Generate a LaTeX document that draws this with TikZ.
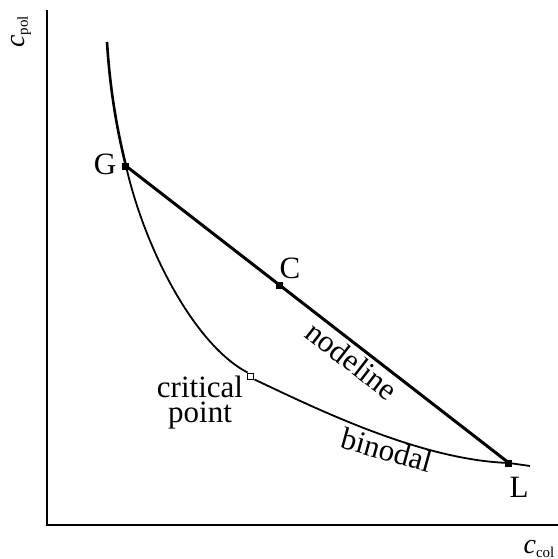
\documentclass[tikz,border=0pt]{standalone}
\usepackage{fontspec}
\setmainfont{Liberation Serif}
\usetikzlibrary{positioning}

\begin{document}
\begin{tikzpicture}[x=0.5pt, y=-0.5pt,
    axis/.style={line width=1.4pt},
    tie/.style={line width=1.5pt},
    curve/.style={line width=0.9pt},
    dot/.style={rectangle, fill=black, inner sep=0pt, minimum size=3.5pt},
    crit/.style={rectangle, draw, fill=white, line width=0.5pt, inner sep=0pt, minimum size=3pt},
    lbl/.style={font=\fontsize{15.5}{12.5}\selectfont, inner sep=1pt}
]
    \useasboundingbox (0,0) rectangle (558,559);

    % Axes
    \coordinate (ytop) at (47,10);
    \coordinate (O) at (47,525);
    \coordinate (xend) at (558,525);
    \draw[axis] (ytop) -- (O) -- (xend);
    \node[rotate=90, inner sep=0pt] (cpol) at (21,32) {\fontsize{14}{14}\selectfont\textit{c}\raisebox{-0.3ex}{\fontsize{7.5}{7.5}\selectfont pol}};
    \node[inner sep=0pt] (ccol) at (539,549) {\fontsize{14}{14}\selectfont\textit{c}\raisebox{-0.3ex}{\fontsize{7.5}{7.5}\selectfont col}};

    % Points
    \node[dot] (G) at (126,166) {};
    \node[dot] (C) at (280,285) {};
    \node[dot] (L) at (509,463) {};
    \node[crit] (cp) at (251,376) {};
    \coordinate (top) at (107,42);
    \coordinate (tail) at (530,466);

    % Binodal
    \draw[curve, line width=1.3pt] (top) .. controls (110,90) and (117,130) .. (G.center);
    \draw[curve] (G.center) .. controls (145,250) and (195,345) .. (cp.north west);
    \draw[curve] (cp.south east) .. controls (315,408) and (420,460) .. (L.center) -- (tail);

    % Tie line
    \draw[tie] (G.center) -- (L.center);
    \node[dot] at (G) {};
    \node[dot] at (C) {};
    \node[dot] at (L) {};

    % Labels
    \node[lbl] (Glbl) at (105,164) {G};
    \node[lbl] (Clbl) at (290,268) {C};
    \node[lbl] (Llbl) at (519,487) {L};
    \node[lbl, align=center] (cplbl) at (200,403) {critical\\point};
    \path (G.center) -- (L.center) node[lbl, pos=0.615, sloped, below=1pt] (nl) {nodeline};
    \node[lbl, rotate=-15.5] (bn) at (387,450) {binodal};
\end{tikzpicture}
\end{document}
